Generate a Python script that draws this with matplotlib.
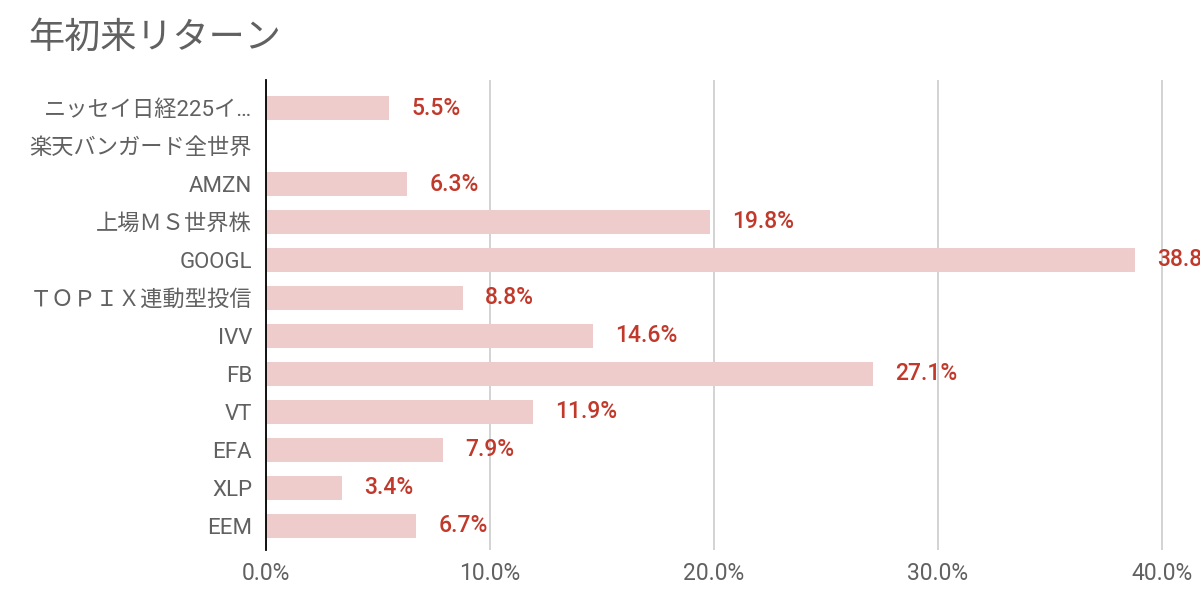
import matplotlib
matplotlib.use("Agg")
import matplotlib.pyplot as plt
import numpy as np

plt.rcParams['font.family'] = ['Roboto', 'Noto Sans CJK JP', 'DejaVu Sans']

title = "年初来リターン"
categories = ["ニッセイ日経225イ…", "楽天バンガード全世界", "AMZN", "上場ＭＳ世界株", "GOOGL",
              "ＴＯＰＩＸ連動型投信", "IVV", "FB", "VT", "EFA", "XLP", "EEM"]
values = [5.5, np.nan, 6.3, 19.8, 38.8, 8.8, 14.6, 27.1, 11.9, 7.9, 3.4, 6.7]
xticks = [0, 10, 20, 30, 40]
xticklabels = ["0.0%", "10.0%", "20.0%", "30.0%", "40.0%"]

bar_color = "#eecccc"
label_color = "#c0392b"
text_grey = "#616161"

fig = plt.figure(figsize=(12, 5.99), dpi=100)
ax = fig.add_axes([266/1200, 49/599, 1 - 266/1200, 470/599])

y = np.arange(len(categories))
vals = np.array(values, dtype=float)
bars = ax.barh(y, np.nan_to_num(vals), height=0.63, color=bar_color, zorder=2)
for b, v in zip(bars, vals):
    if np.isnan(v):
        b.set_visible(False)
        continue
    ax.annotate(f"{v:.1f}%", xy=(v, b.get_y() + b.get_height() / 2),
                xytext=(16, 0), textcoords="offset points", va="center", ha="left",
                color=label_color, fontsize=16.5, fontweight='medium',
                clip_on=False, zorder=3)

ax.set_ylim(len(categories) - 1 + 0.64, -0.74)
ax.set_xlim(0, 934 / 22.4)
ax.set_yticks(y)
ax.set_yticklabels(categories, fontsize=16, color=text_grey)
ax.set_xticks(xticks)
ax.set_xticklabels(xticklabels, fontsize=16.5, color=text_grey)
ax.tick_params(axis='both', length=0)
ax.tick_params(axis='y', pad=10)
ax.tick_params(axis='x', pad=9)
ax.grid(axis='x', color="#cccccc", linewidth=1.2, zorder=0)
ax.set_axisbelow(True)
for s in ['top', 'right', 'bottom']:
    ax.spines[s].set_visible(False)
ax.spines['left'].set_color('black')
ax.spines['left'].set_linewidth(1.3)
ax.spines['left'].set_zorder(4)

fig.text(28/1200, 1 - 38/599, title, fontsize=26, color=text_grey, va='center', ha='left')

fig.savefig("out.png", dpi=100)
